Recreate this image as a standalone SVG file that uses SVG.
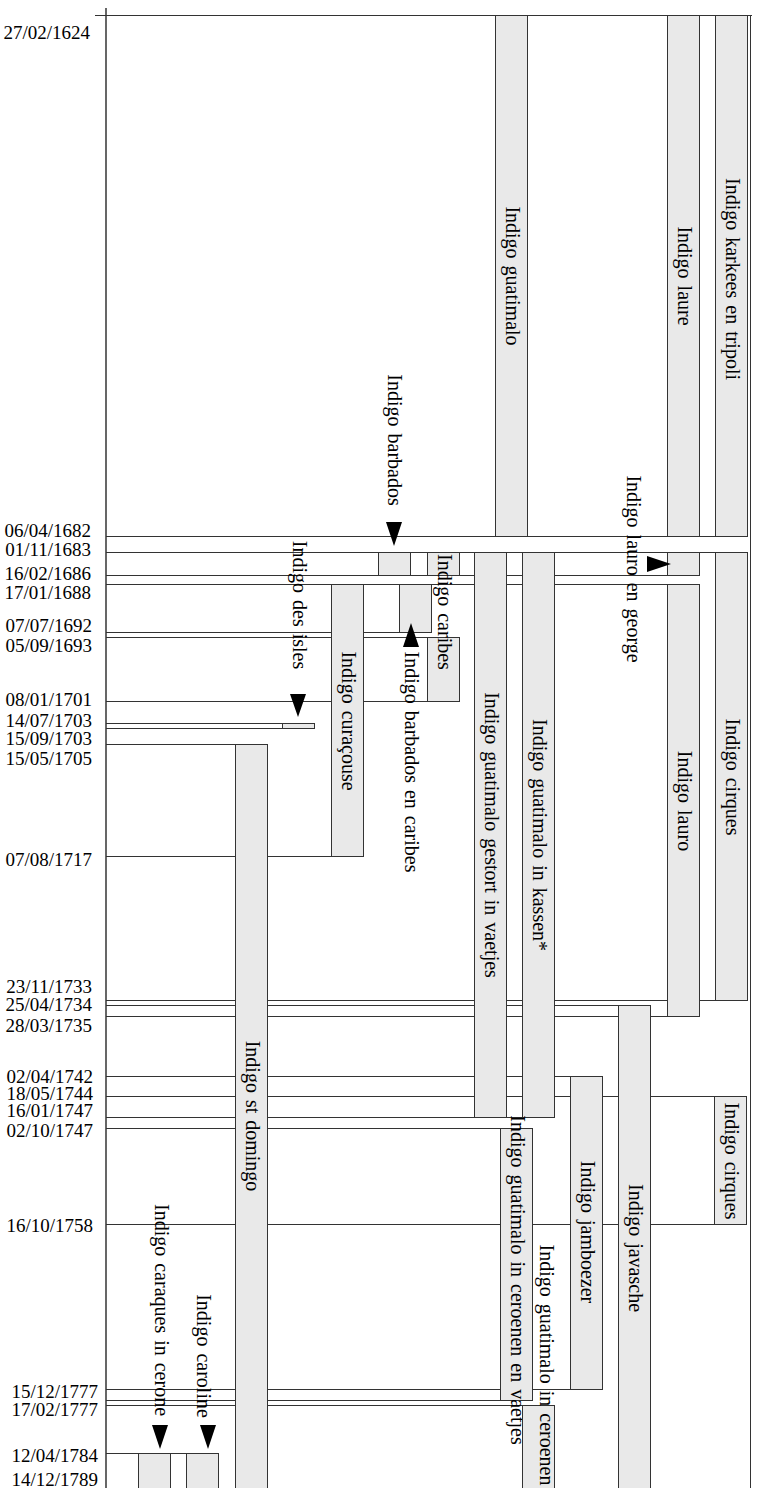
<svg xmlns="http://www.w3.org/2000/svg" width="760" height="1488" viewBox="0 0 760 1488">
<style>
.ln{stroke:#333;stroke-width:1;fill:none}
.ax{stroke:#000;stroke-width:1.2;fill:none}
.bar{fill:#e9e9e9;stroke:#333;stroke-width:1}
.dt{font-family:"Liberation Serif",serif;font-size:19px;fill:#000;text-anchor:end}
.lb{font-family:"Liberation Serif",serif;font-size:20px;fill:#000;text-anchor:middle;word-spacing:2px}
.ls{font-family:"Liberation Serif",serif;font-size:20px;fill:#000;text-anchor:start;word-spacing:2px}
.ar{fill:#000}
</style>
<rect width="760" height="1488" fill="#fff"/>
<g id="connectors">
<line class="ax" x1="106" y1="8" x2="106" y2="1488"/>
<line class="ln" x1="95" y1="15.5" x2="752" y2="15.5"/>
<line class="ln" x1="750.5" y1="15" x2="750.5" y2="1488"/>
<line class="ln" x1="106" y1="536.5" x2="747" y2="536.5"/>
<line class="ln" x1="106" y1="552.5" x2="715" y2="552.5"/>
<line class="ln" x1="106" y1="575.5" x2="667" y2="575.5"/>
<line class="ln" x1="106" y1="584.5" x2="667" y2="584.5"/>
<line class="ln" x1="106" y1="632.5" x2="399" y2="632.5"/>
<line class="ln" x1="106" y1="637.5" x2="427" y2="637.5"/>
<line class="ln" x1="106" y1="701.5" x2="427" y2="701.5"/>
<line class="ln" x1="106" y1="723.5" x2="282" y2="723.5"/>
<line class="ln" x1="106" y1="728.5" x2="282" y2="728.5"/>
<line class="ln" x1="106" y1="744.5" x2="235" y2="744.5"/>
<line class="ln" x1="106" y1="856.5" x2="331" y2="856.5"/>
<line class="ln" x1="106" y1="1000.5" x2="715" y2="1000.5"/>
<line class="ln" x1="106" y1="1005.5" x2="619" y2="1005.5"/>
<line class="ln" x1="106" y1="1016.5" x2="667" y2="1016.5"/>
<line class="ln" x1="106" y1="1076.5" x2="571" y2="1076.5"/>
<line class="ln" x1="106" y1="1096.5" x2="715" y2="1096.5"/>
<line class="ln" x1="106" y1="1117.5" x2="522" y2="1117.5"/>
<line class="ln" x1="106" y1="1128.5" x2="500" y2="1128.5"/>
<line class="ln" x1="106" y1="1224.5" x2="715" y2="1224.5"/>
<line class="ln" x1="106" y1="1389.5" x2="571" y2="1389.5"/>
<line class="ln" x1="106" y1="1400.5" x2="500" y2="1400.5"/>
<line class="ln" x1="106" y1="1405.5" x2="522" y2="1405.5"/>
<line class="ln" x1="106" y1="1453.5" x2="186" y2="1453.5"/>
</g>
<g id="dates">
<text class="dt" x="90" y="39">27/02/1624</text>
<text class="dt" x="91" y="537">06/04/1682</text>
<text class="dt" x="91" y="556">01/11/1683</text>
<text class="dt" x="91" y="580">16/02/1686</text>
<text class="dt" x="91" y="599">17/01/1688</text>
<text class="dt" x="92" y="632">07/07/1692</text>
<text class="dt" x="92" y="652">05/09/1693</text>
<text class="dt" x="92" y="706">08/01/1701</text>
<text class="dt" x="92" y="727">14/07/1703</text>
<text class="dt" x="92" y="745">15/09/1703</text>
<text class="dt" x="92" y="765">15/05/1705</text>
<text class="dt" x="92" y="866">07/08/1717</text>
<text class="dt" x="92" y="993">23/11/1733</text>
<text class="dt" x="92" y="1011">25/04/1734</text>
<text class="dt" x="92" y="1032">28/03/1735</text>
<text class="dt" x="93" y="1083">02/04/1742</text>
<text class="dt" x="93" y="1100">18/05/1744</text>
<text class="dt" x="93" y="1117">16/01/1747</text>
<text class="dt" x="93" y="1137">02/10/1747</text>
<text class="dt" x="93" y="1232">16/10/1758</text>
<text class="dt" x="98" y="1398">15/12/1777</text>
<text class="dt" x="98" y="1416">17/02/1777</text>
<text class="dt" x="98" y="1462">12/04/1784</text>
<text class="dt" x="98" y="1486">14/12/1789</text>
</g>
<g id="n-guatimalo"><rect class="bar" x="495.5" y="15.5" width="32" height="521"/><text class="lb" transform="translate(511,276) rotate(90)" y="5">Indigo guatimalo</text></g>
<g id="n-laure"><rect class="bar" x="667.5" y="15.5" width="32" height="521"/><text class="lb" transform="translate(683,276) rotate(90)" y="5">Indigo laure</text></g>
<g id="n-karkees"><rect class="bar" x="715.5" y="15.5" width="32" height="521"/><text class="lb" transform="translate(731,279) rotate(90)" y="5">Indigo karkees en tripoli</text></g>
<g id="n-barbados"><rect class="bar" x="378.5" y="552.5" width="32" height="23"/><text class="lb" transform="translate(393,440) rotate(90)" y="5">Indigo barbados</text><polygon class="ar" points="386,522 402,522 394,546"/></g>
<g id="n-caribes"><rect class="bar" x="427.5" y="552.5" width="32" height="23"/><rect class="bar" x="427.5" y="637.5" width="32" height="64"/><text class="ls" transform="translate(443,554) rotate(90)" y="5">Indigo caribes</text></g>
<g id="n-gestort"><rect class="bar" x="474.5" y="552.5" width="32" height="565"/><text class="lb" transform="translate(490,835) rotate(90)" y="5">Indigo guatimalo gestort in vaetjes</text></g>
<g id="n-kassen"><rect class="bar" x="522.5" y="552.5" width="32" height="565"/><text class="lb" transform="translate(538,835) rotate(90)" y="5">Indigo guatimalo in kassen*</text></g>
<g id="n-lauro-george"><rect class="bar" x="667.5" y="552.5" width="32" height="23"/><text class="lb" transform="translate(632,569) rotate(90)" y="5">Indigo lauro en george</text><polygon class="ar" points="647,556 647,572 671,564"/></g>
<g id="n-cirques"><rect class="bar" x="715.5" y="552.5" width="32" height="448"/><text class="lb" transform="translate(731,777) rotate(90)" y="5">Indigo cirques</text></g>
<g id="n-curacouse"><rect class="bar" x="331.5" y="584.5" width="32" height="272"/><text class="lb" transform="translate(347,721) rotate(90)" y="5">Indigo curaçouse</text></g>
<g id="n-barbados-caribes"><rect class="bar" x="399.5" y="584.5" width="32" height="48"/><text class="lb" transform="translate(410,762) rotate(90)" y="5">Indigo barbados en caribes</text><polygon class="ar" points="403,647 419,647 411,623"/></g>
<g id="n-lauro"><rect class="bar" x="667.5" y="584.5" width="32" height="432"/><text class="lb" transform="translate(683,801) rotate(90)" y="5">Indigo lauro</text></g>
<g id="n-des-isles"><rect class="bar" x="282.5" y="723.5" width="32" height="5"/><text class="lb" transform="translate(298,605) rotate(90)" y="5">Indigo des isles</text><polygon class="ar" points="290,694 306,694 298,717"/></g>
<g id="n-st-domingo"><rect class="bar" x="235.5" y="744.5" width="32" height="746"/><text class="lb" transform="translate(251,1116) rotate(90)" y="5">Indigo st domingo</text></g>
<g id="n-javasche"><rect class="bar" x="618.5" y="1005.5" width="32" height="485"/><text class="lb" transform="translate(634,1248) rotate(90)" y="5">Indigo javasche</text></g>
<g id="n-jamboezer"><rect class="bar" x="570.5" y="1076.5" width="32" height="313"/><text class="lb" transform="translate(586,1232) rotate(90)" y="5">Indigo jamboezer</text></g>
<g id="n-cirques2"><rect class="bar" x="714.5" y="1096.5" width="32" height="128"/><text class="lb" transform="translate(730,1161) rotate(90)" y="5">Indigo cirques</text></g>
<g id="n-ceroenen-vaetjes"><rect class="bar" x="500.5" y="1128.5" width="32" height="272"/><text class="lb" transform="translate(516,1280) rotate(90)" y="5">Indigo guatimalo in ceroenen en vaetjes</text></g>
<g id="n-ceroenen"><rect class="bar" x="522.5" y="1405.5" width="32" height="85"/><text class="lb" transform="translate(545,1365) rotate(90)" y="5">Indigo guatimalo in ceroenen</text></g>
<g id="n-caraques"><rect class="bar" x="138.5" y="1453.5" width="32" height="37"/><text class="lb" transform="translate(160,1310) rotate(90)" y="5">Indigo caraques in cerone</text><polygon class="ar" points="152,1425 168,1425 160,1449"/></g>
<g id="n-caroline"><rect class="bar" x="186.5" y="1453.5" width="32" height="37"/><text class="lb" transform="translate(202,1356) rotate(90)" y="5">Indigo caroline</text><polygon class="ar" points="200,1425 216,1425 208,1449"/></g>
</svg>
